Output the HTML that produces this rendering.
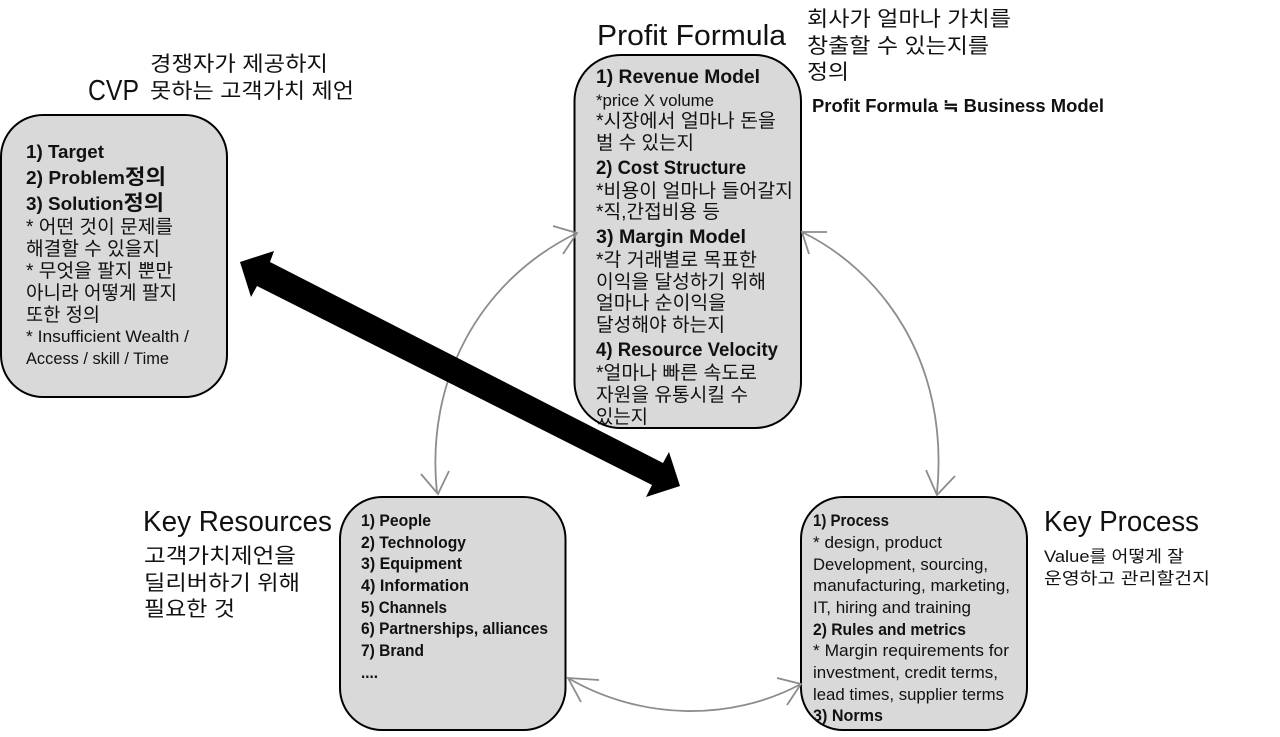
<!DOCTYPE html>
<html lang="ko">
<head>
<meta charset="utf-8">
<title>Business Model Diagram</title>
<style>
html,body{margin:0;padding:0;background:#fff;width:1280px;height:737px;overflow:hidden}
svg{display:block}
text{font-family:"Liberation Sans","Noto Sans CJK KR",sans-serif;fill:#111;white-space:pre}
.t{font-size:29px}
.k{font-size:21px}
.h{font-size:18px;font-weight:bold}
.hh{font-size:19px;font-weight:bold}
.n{font-size:19px}
.s{font-size:16.5px}
.sb{font-size:16.5px;font-weight:bold}
.box{fill:#d9d9d9;stroke:#000;stroke-width:2}
.c{fill:none;stroke:#8c8c8c;stroke-width:1.8}
</style>
</head>
<body>
<svg width="1280" height="737" viewBox="0 0 1280 737" xmlns="http://www.w3.org/2000/svg">
<rect x="1" y="115" width="226" height="282" rx="42" class="box"/>
<rect x="574.500" y="55" width="226.500" height="373" rx="46" class="box"/>
<rect x="340" y="497" width="225.500" height="233" rx="42" class="box"/>
<rect x="801" y="497" width="226" height="233" rx="42" class="box"/>

<path class="c" d="M577 233C480 280 425 380 437 493"/>
<path class="c" d="M553 226L577 233L563 254"/>
<path class="c" d="M421 474L438 494L449 471"/>
<path class="c" d="M802 232C880 270 950 360 937 493"/>
<path class="c" d="M827 232L802 232L809 254"/>
<path class="c" d="M926 470L937 495L955 476"/>
<path class="c" d="M568 678C640 720 730 722 801 684"/>
<path class="c" d="M599 680L568 678L581 702"/>
<path class="c" d="M777 678L801 684L787 705"/>
<polygon fill="#000" points="240,262 274,251 270,262 663,463 669,452 680,486 646,497 652,485 257,286 251,297"/>

<text class="t" x="88" y="100" textLength="51" lengthAdjust="spacingAndGlyphs">CVP</text>
<text class="k" x="150" y="71" textLength="178" lengthAdjust="spacingAndGlyphs">경쟁자가 제공하지</text>
<text class="k" x="150" y="98" textLength="204" lengthAdjust="spacingAndGlyphs">못하는 고객가치 제언</text>
<text class="h" x="26" y="158" textLength="78" lengthAdjust="spacingAndGlyphs">1) Target</text>
<text class="h" x="26" y="184" textLength="140" lengthAdjust="spacingAndGlyphs">2) Problem<tspan font-size="21">정의</tspan></text>
<text class="h" x="26" y="210" textLength="138" lengthAdjust="spacingAndGlyphs">3) Solution<tspan font-size="21">정의</tspan></text>
<text class="n" x="26" y="233" textLength="147" lengthAdjust="spacingAndGlyphs">* 어떤 것이 문제를</text>
<text class="n" x="26" y="255" textLength="134" lengthAdjust="spacingAndGlyphs">해결할 수 있을지</text>
<text class="n" x="26" y="277" textLength="147" lengthAdjust="spacingAndGlyphs">* 무엇을 팔지 뿐만</text>
<text class="n" x="26" y="299" textLength="151" lengthAdjust="spacingAndGlyphs">아니라 어떻게 팔지</text>
<text class="n" x="26" y="321" textLength="74" lengthAdjust="spacingAndGlyphs">또한 정의</text>
<text class="s" x="26" y="342" textLength="163" lengthAdjust="spacingAndGlyphs">* Insufficient Wealth /</text>
<text class="s" x="26" y="364" textLength="143" lengthAdjust="spacingAndGlyphs">Access / skill / Time</text>

<text class="t" x="597" y="45" textLength="189" lengthAdjust="spacingAndGlyphs">Profit Formula</text>
<text class="k" x="807" y="26" textLength="204" lengthAdjust="spacingAndGlyphs">회사가 얼마나 가치를</text>
<text class="k" x="807" y="53" textLength="182" lengthAdjust="spacingAndGlyphs">창출할 수 있는지를</text>
<text class="k" x="807" y="79" textLength="42" lengthAdjust="spacingAndGlyphs">정의</text>
<text class="h" x="812" y="112" textLength="292" lengthAdjust="spacingAndGlyphs">Profit Formula ≒ Business Model</text>
<text class="hh" x="596" y="83" textLength="164" lengthAdjust="spacingAndGlyphs">1) Revenue Model</text>
<text class="s" x="596" y="106" textLength="118" lengthAdjust="spacingAndGlyphs">*price X volume</text>
<text class="n" x="596" y="127" textLength="180" lengthAdjust="spacingAndGlyphs">*시장에서 얼마나 돈을</text>
<text class="n" x="596" y="149" textLength="98" lengthAdjust="spacingAndGlyphs">벌 수 있는지</text>
<text class="hh" x="596" y="174" textLength="150" lengthAdjust="spacingAndGlyphs">2) Cost Structure</text>
<text class="n" x="596" y="197" textLength="197" lengthAdjust="spacingAndGlyphs">*비용이 얼마나 들어갈지</text>
<text class="n" x="596" y="218" textLength="124" lengthAdjust="spacingAndGlyphs">*직,간접비용 등</text>
<text class="hh" x="596" y="243" textLength="150" lengthAdjust="spacingAndGlyphs">3) Margin Model</text>
<text class="n" x="596" y="266" textLength="161" lengthAdjust="spacingAndGlyphs">*각 거래별로 목표한</text>
<text class="n" x="596" y="288" textLength="170" lengthAdjust="spacingAndGlyphs">이익을 달성하기 위해</text>
<text class="n" x="596" y="309" textLength="130" lengthAdjust="spacingAndGlyphs">얼마나 순이익을</text>
<text class="n" x="596" y="331" textLength="129" lengthAdjust="spacingAndGlyphs">달성해야 하는지</text>
<text class="hh" x="596" y="356" textLength="182" lengthAdjust="spacingAndGlyphs">4) Resource Velocity</text>
<text class="n" x="596" y="379" textLength="161" lengthAdjust="spacingAndGlyphs">*얼마나 빠른 속도로</text>
<text class="n" x="596" y="401" textLength="152" lengthAdjust="spacingAndGlyphs">자원을 유통시킬 수</text>
<text class="n" x="596" y="423" textLength="52" lengthAdjust="spacingAndGlyphs">있는지</text>

<text class="t" x="143" y="531" textLength="189" lengthAdjust="spacingAndGlyphs">Key Resources</text>
<text class="k" x="144" y="563" textLength="152" lengthAdjust="spacingAndGlyphs">고객가치제언을</text>
<text class="k" x="144" y="590" textLength="156" lengthAdjust="spacingAndGlyphs">딜리버하기 위해</text>
<text class="k" x="144" y="616" textLength="91" lengthAdjust="spacingAndGlyphs">필요한 것</text>
<text class="sb" x="361" y="526" textLength="70" lengthAdjust="spacingAndGlyphs">1) People</text>
<text class="sb" x="361" y="548" textLength="105" lengthAdjust="spacingAndGlyphs">2) Technology</text>
<text class="sb" x="361" y="569" textLength="101" lengthAdjust="spacingAndGlyphs">3) Equipment</text>
<text class="sb" x="361" y="591" textLength="108" lengthAdjust="spacingAndGlyphs">4) Information</text>
<text class="sb" x="361" y="613" textLength="86" lengthAdjust="spacingAndGlyphs">5) Channels</text>
<text class="sb" x="361" y="634" textLength="187" lengthAdjust="spacingAndGlyphs">6) Partnerships, alliances</text>
<text class="sb" x="361" y="656" textLength="63" lengthAdjust="spacingAndGlyphs">7) Brand</text>
<text class="sb" x="361" y="678" textLength="17" lengthAdjust="spacingAndGlyphs">....</text>

<text class="t" x="1044" y="531" textLength="155" lengthAdjust="spacingAndGlyphs">Key Process</text>
<text class="s" x="1044" y="562" textLength="140" lengthAdjust="spacingAndGlyphs">Value를 어떻게 잘</text>
<text class="s" x="1044" y="584" textLength="166" lengthAdjust="spacingAndGlyphs">운영하고 관리할건지</text>
<text class="sb" x="813" y="526" textLength="76" lengthAdjust="spacingAndGlyphs">1) Process</text>
<text class="s" x="813" y="548" textLength="129" lengthAdjust="spacingAndGlyphs">* design, product</text>
<text class="s" x="813" y="570" textLength="175" lengthAdjust="spacingAndGlyphs">Development, sourcing,</text>
<text class="s" x="813" y="591" textLength="197" lengthAdjust="spacingAndGlyphs">manufacturing, marketing,</text>
<text class="s" x="813" y="613" textLength="158" lengthAdjust="spacingAndGlyphs">IT, hiring and training</text>
<text class="sb" x="813" y="635" textLength="153" lengthAdjust="spacingAndGlyphs">2) Rules and metrics</text>
<text class="s" x="813" y="656" textLength="196" lengthAdjust="spacingAndGlyphs">* Margin requirements for</text>
<text class="s" x="813" y="678" textLength="185" lengthAdjust="spacingAndGlyphs">investment, credit terms,</text>
<text class="s" x="813" y="700" textLength="191" lengthAdjust="spacingAndGlyphs">lead times, supplier terms</text>
<text class="sb" x="813" y="721" textLength="70" lengthAdjust="spacingAndGlyphs">3) Norms</text>
</svg>
</body>
</html>
